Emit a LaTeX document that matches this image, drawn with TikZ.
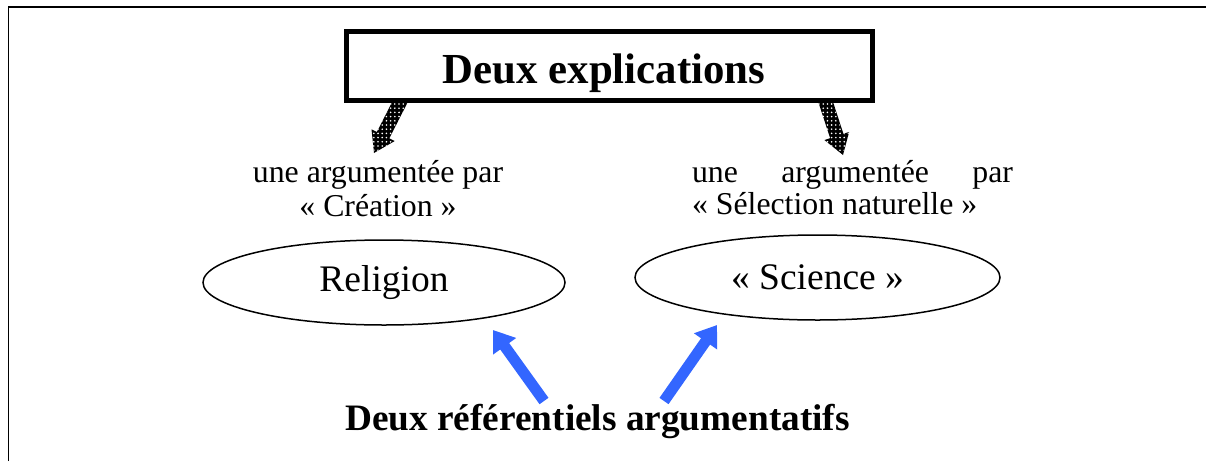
\documentclass[tikz,border=0pt]{standalone}
\usepackage{fontspec}
\setmainfont{Liberation Serif}
\usetikzlibrary{calc,patterns.meta,shapes.geometric,arrows.meta}
\definecolor{arrowblue}{RGB}{51,102,255}
\begin{document}
\begin{tikzpicture}[x=1pt,y=-1pt,
  txt/.style={inner sep=0pt,outer sep=0pt,font=\fontsize{31.8}{35}\selectfont},
  ellipsetxt/.style={draw,ellipse,line width=1.5pt,inner sep=0pt,font=\fontsize{37.5}{40}\selectfont},
  dotarrow/.style={preaction={fill=black},pattern={Dots[distance=4.2pt,radius=0.9pt]},pattern color=white},
  bluearrow/.style={draw=arrowblue,line width=11pt,-{Triangle[length=20pt,width=27pt]}},
  boldtxt/.style={inner sep=0pt,outer sep=0pt,font=\bfseries\fontsize{37.3}{40}\selectfont}]
\useasboundingbox (0,0) rectangle (1206,461);
% outer frame
\draw[line width=1.6pt] (8.5,461) -- (8.5,7) -- (1206,7);
% dotted block arrows (drawn first, box on top)
\coordinate (s1) at (401,100);
\coordinate (t1) at (374,153);
\coordinate (h1) at ($(t1)!20pt!(s1)$);
\path[dotarrow] ($(s1)!7pt!90:(t1)$) -- ($(h1)!7pt!90:(t1)$) -- ($(h1)!13pt!90:(t1)$) -- (t1)
  -- ($(h1)!13pt!-90:(t1)$) -- ($(h1)!7pt!-90:(t1)$) -- ($(s1)!7pt!-90:(t1)$) -- cycle;
\coordinate (s2) at (825,100);
\coordinate (t2) at (843,155);
\coordinate (h2) at ($(t2)!20pt!(s2)$);
\path[dotarrow] ($(s2)!7pt!90:(t2)$) -- ($(h2)!7pt!90:(t2)$) -- ($(h2)!13pt!90:(t2)$) -- (t2)
  -- ($(h2)!13pt!-90:(t2)$) -- ($(h2)!7pt!-90:(t2)$) -- ($(s2)!7pt!-90:(t2)$) -- cycle;
% title box
\node[draw,fill=white,line width=5pt,minimum width=526pt,minimum height=69pt,inner sep=0pt] (titlebox) at (609,65.5) {};
\node[inner sep=0pt,anchor=base,font=\bfseries\fontsize{42.8}{45}\selectfont] (title) at (604,83) {Deux explications};
% left text
\node[txt,anchor=base] (l1) at (378,182) {une argumentée par};
\node[txt,anchor=base] (l2) at (378,216) {« Création »};
% right text
\node[txt,anchor=base west] (r1) at (692,182) {\makebox[321pt][s]{une argumentée par}};
\node[txt,anchor=base west] (r2) at (692,214) {« Sélection naturelle »};
% ellipses
\node[ellipsetxt,minimum width=362pt,minimum height=85pt] (religion) at (384,282.5) {Religion};
\node[ellipsetxt,minimum width=365pt,minimum height=85pt] (science) at (817.5,277.5) {« Science »};
% bottom text
\node[boldtxt,anchor=base] (bottom) at (597.5,430) {Deux référentiels argumentatifs};
% blue arrows
\coordinate (b1) at (544,401);
\coordinate (e1) at (493,330);
\coordinate (b2) at (664,401);
\coordinate (e2) at (717,325);
\draw[bluearrow] (b1) -- (e1);
\draw[bluearrow] (b2) -- (e2);
\end{tikzpicture}
\end{document}
